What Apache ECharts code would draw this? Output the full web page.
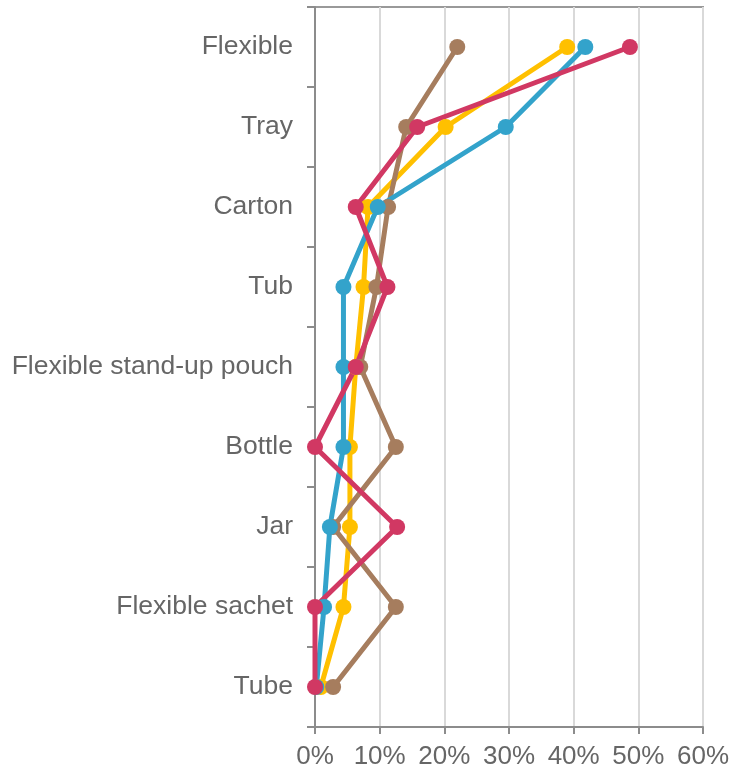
<!DOCTYPE html>
<html>
<head>
<meta charset="utf-8">
<script src="https://cdn.jsdelivr.net/npm/echarts@6/dist/echarts.min.js"></script>
<style>
  html, body { margin: 0; padding: 0; background: #fff; }
  #chart { width: 734px; height: 773px; }
</style>
</head>
<body>
<div id="chart"></div>
<script>
// Packaging formats, top to bottom
const categories = ['Flexible', 'Tray', 'Carton', 'Tub', 'Flexible stand-up pouch', 'Bottle', 'Jar', 'Flexible sachet', 'Tube'];

// Share of each format (%) per series
const yellowValues = [39.0, 20.2, 8.2, 7.5, 6.3, 5.4, 5.4, 4.4, 0.9];
const brownValues  = [22.0, 14.1, 11.3, 9.5, 7.0, 12.5, 2.8, 12.5, 2.8];
const blueValues   = [41.8, 29.5, 9.7, 4.4, 4.4, 4.4, 2.3, 1.4, 0.2];
const redValues    = [48.7, 15.8, 6.3, 11.2, 6.3, 0.0, 12.7, 0.0, 0.0];

// x-axis range
const xMin = 0, xMax = 60, xStep = 10;

const seriesDefs = [
  { name: 'Yellow', data: yellowValues, color: '#FFC000' },
  { name: 'Brown',  data: brownValues,  color: '#A67D5E' },
  { name: 'Blue',   data: blueValues,   color: '#33A3CB' },
  { name: 'Red',    data: redValues,    color: '#D13863' }
];

const chart = echarts.init(document.getElementById('chart'), null, { renderer: 'canvas' });
const font = 'Liberation Sans, Arial, sans-serif';

chart.setOption({
  animation: false,
  backgroundColor: '#ffffff',
  grid: {
    left: 315, right: 31, top: 7, bottom: 46,
    show: true, borderColor: '#999999', borderWidth: 2
  },
  xAxis: {
    type: 'value',
    min: xMin, max: xMax, interval: xStep,
    axisLine: { show: true, lineStyle: { color: '#8c8c8c', width: 2 } },
    axisTick: { show: true, length: 7, lineStyle: { color: '#8c8c8c', width: 2 } },
    axisLabel: {
      formatter: '{value}%', color: '#666666', fontSize: 26, fontFamily: font, margin: 17
    },
    splitLine: { show: true, lineStyle: { color: '#d9d9d9', width: 2 } }
  },
  yAxis: {
    type: 'category',
    data: categories,
    inverse: true,
    boundaryGap: true,
    axisLine: { show: true, lineStyle: { color: '#8c8c8c', width: 2 } },
    axisTick: { show: true, length: 8, interval: 0, lineStyle: { color: '#8c8c8c', width: 2 } },
    axisLabel: {
      color: '#666666', fontSize: 26.5, fontFamily: font, margin: 22, interval: 0,
      padding: [3, 0, 0, 0]
    },
    splitLine: { show: false }
  },
  series: seriesDefs.map(s => ({
    name: s.name,
    type: 'line',
    data: s.data,
    symbol: 'circle',
    symbolSize: 16,
    showSymbol: true,
    lineStyle: { color: s.color, width: 5 },
    itemStyle: { color: s.color },
    emphasis: { disabled: true }
  }))
});
</script>
</body>
</html>
